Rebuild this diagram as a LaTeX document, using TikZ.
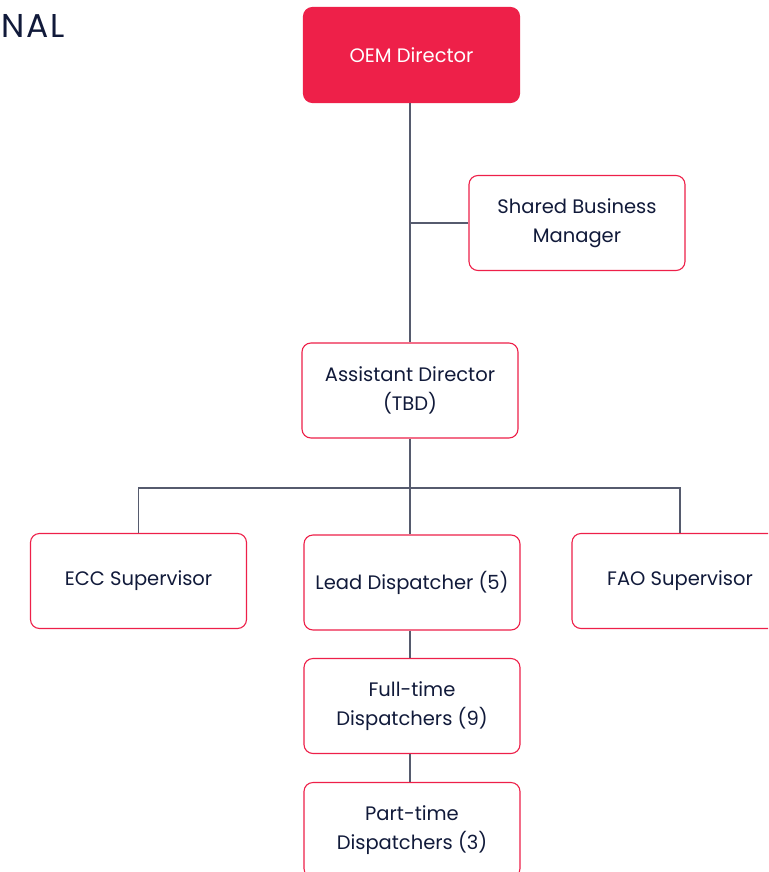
\documentclass[tikz,border=0pt]{standalone}
\usepackage{fontspec}
\setmainfont{Poppins}
\newfontfamily\titlefont[LetterSpace=6]{Poppins}
\definecolor{brandred}{HTML}{EE2049}
\definecolor{navy}{HTML}{111A3A}
\definecolor{linegray}{HTML}{565B6E}
\tikzset{
  orgbox/.style={draw=brandred, line width=1.1pt, rounded corners=9pt, fill=white,
    minimum width=216pt, minimum height=95pt, align=center, text=navy,
    font=\fontsize{19.5pt}{29pt}\selectfont, inner sep=0pt},
  topbox/.style={orgbox, fill=brandred, text=white},
  link/.style={draw=linegray, line width=1.1pt}
}
\begin{document}
\begin{tikzpicture}[x=1pt,y=-1pt]
\useasboundingbox (0,0) rectangle (768,872);
\clip (0,0) rectangle (768,872);
\fill[white] (0,0) rectangle (768,872);
\node[anchor=west, text=navy, font=\titlefont\fontsize{33pt}{33pt}\selectfont, inner sep=0pt] (title) at (1,26) {NAL};
\node[topbox] (oem) at (411.5,55) {OEM Director};
\node[orgbox] (sbm) at (577,223) {Shared Business\\Manager};
\node[orgbox] (ad) at (410,390.5) {Assistant Director\\(TBD)};
\node[orgbox] (ecc) at (138.5,581) {ECC Supervisor};
\node[orgbox] (lead) at (412,582.5) {Lead Dispatcher (5)};
\node[orgbox] (fao) at (680,581) {FAO Supervisor};
\node[orgbox] (ft) at (412,706) {Full-time\\Dispatchers (9)};
\node[orgbox] (pt) at (412,830) {Part-time\\Dispatchers (3)};
\coordinate (j1) at (410,223);
\coordinate (j2) at (410,488);
\draw[link] (oem.south -| j1) -- (ad.north -| j1);
\draw[link] (j1) -- (sbm.west);
\draw[link] (ad.south -| j2) -- (j2);
\draw[link] (ecc.north) |- (j2) -| (fao.north);
\draw[link] (j2) -- (lead.north -| j2);
\draw[link] (lead.south -| j2) -- (ft.north -| j2);
\draw[link] (ft.south -| j2) -- (pt.north -| j2);
\end{tikzpicture}
\end{document}
